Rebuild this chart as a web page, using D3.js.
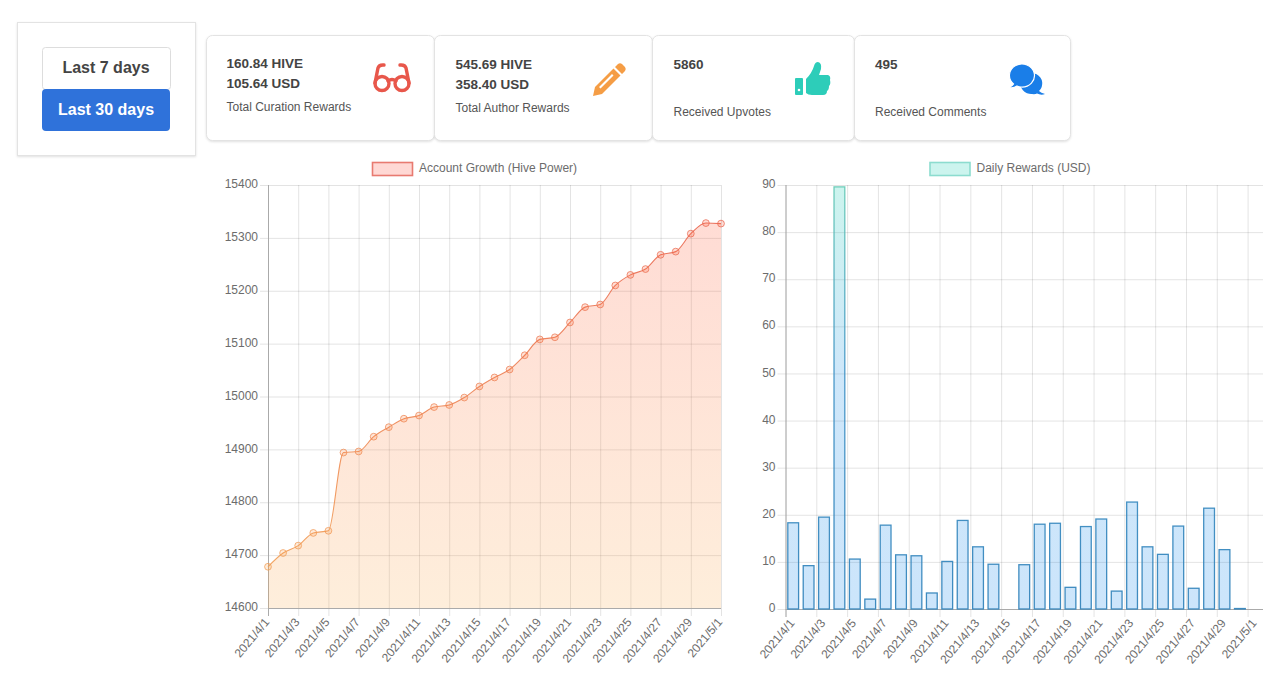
<!DOCTYPE html>
<html>
<head>
<meta charset="utf-8">
<script src="https://cdn.jsdelivr.net/npm/d3@7"></script>
<style>
  html, body { margin: 0; padding: 0; background: #fff; overflow: hidden; }
  svg { display: block; font-family: "Liberation Sans", Arial, sans-serif; }
  .box { fill: #fff; stroke: #e3e3e3; stroke-width: 1; filter: drop-shadow(0 1px 1px rgba(0,0,0,.12)); }
  .big { font-size: 13.5px; font-weight: bold; fill: #444; }
  .small { font-size: 12px; fill: #555; }
  .tick text, .legend-text { font-size: 12px; fill: #6c6c6c; }
  .grid line { stroke: rgba(0,0,0,.11); }
</style>
</head>
<body>
<svg id="page" width="1275" height="691"></svg>
<script>
// ------------------------------------------------------------------ //
// Data

var days = ['2021/4/1','2021/4/2','2021/4/3','2021/4/4','2021/4/5','2021/4/6','2021/4/7','2021/4/8',
  '2021/4/9','2021/4/10','2021/4/11','2021/4/12','2021/4/13','2021/4/14','2021/4/15','2021/4/16',
  '2021/4/17','2021/4/18','2021/4/19','2021/4/20','2021/4/21','2021/4/22','2021/4/23','2021/4/24',
  '2021/4/25','2021/4/26','2021/4/27','2021/4/28','2021/4/29','2021/4/30','2021/5/1'];

var hivePower = [14678,14704,14718,14742,14746,14894,14896,14924,14942,14958,14964,14980,14984,14998,
  15019,15036,15051,15078,15108,15112,15140,15169,15174,15210,15230,15241,15268,15274,15308,15328,15327];

var dailyRewards = [18.3,9.2,19.5,89.6,10.6,2.1,17.8,11.5,11.3,3.4,10.1,18.8,13.2,9.5,0,9.4,
  18,18.2,4.6,17.5,19.1,3.8,22.7,13.2,11.6,17.6,4.4,21.4,12.6,0.1,0];

var growthTicks = d3.range(14600, 15401, 100);
var rewardTicks = d3.range(0, 91, 10);
var dayTicks = days.filter((d, i) => i % 2 == 0);

var buttonLabels = ['Last 7 days', 'Last 30 days'];
var cardFirst = ['160.84 HIVE', '545.69 HIVE', '5860', '495'];
var cardSecond = ['105.64 USD', '358.40 USD', '', ''];
var cardLabels = ['Total Curation Rewards', 'Total Author Rewards', 'Received Upvotes', 'Received Comments'];

// ------------------------------------------------------------------ //
// Setup

var svg = d3.select('#page');
var defs = svg.append('defs');

function gradient(id, y0, y1, stops){
  var g = defs.append('linearGradient').attr('id', id).attr('gradientUnits', 'userSpaceOnUse')
    .attr('x1', 0).attr('x2', 0).attr('y1', y0).attr('y2', y1);
  stops.forEach(s => g.append('stop').attr('offset', s[0]).attr('stop-color', s[1]));
}

var left = { x0: 268, x1: 721, y0: 608, y1: 185 };
var right = { x0: 785.5, x1: 1263, y0: 609, y1: 185 };

gradient('growthFill', left.y1, left.y0, [[0, '#ff4628'], [1, '#faaa4b']]);
gradient('growthLine', left.y1, left.y0, [[0, '#e8604f'], [1, '#f2a557']]);
gradient('rewardFill', right.y1, right.y0, [[0, '#00c8aa'], [0.45, '#0a86e4'], [1, '#007deb']]);
gradient('rewardLine', right.y1, right.y0, [[0, '#62c9b4'], [0.45, '#3a8fc4'], [1, '#2c7fb8']]);

// ------------------------------------------------------------------ //
// Buttons and cards

svg.append('rect').attr('class', 'box').attr('x', 17.5).attr('y', 22.5).attr('width', 178).attr('height', 133);
svg.append('rect').attr('x', 42.5).attr('y', 47.5).attr('width', 128).attr('height', 42).attr('rx', 3)
  .attr('fill', '#fff').attr('stroke', '#ddd');
svg.append('rect').attr('x', 42).attr('y', 89).attr('width', 128).attr('height', 42).attr('rx', 4).attr('fill', '#2f72da');
svg.selectAll('.btn').data(buttonLabels).enter().append('text').attr('class', 'btn')
  .attr('x', 106).attr('y', (d, i) => 73 + i * 42).attr('text-anchor', 'middle')
  .attr('font-size', 16).attr('font-weight', 'bold').attr('fill', (d, i) => i ? '#fff' : '#444')
  .text(d => d);

var cardX = [206.5, 434.5, 652.5, 854.5, 1070.5];
var textX = [226.5, 455.5, 673.5, 875];
var firstY = [68, 69, 69, 69];
var labelY = [111, 112, 116, 116];

cardLabels.forEach((label, i) => {
  svg.append('rect').attr('class', 'box').attr('x', cardX[i]).attr('y', 35.5)
    .attr('width', cardX[i+1] - cardX[i]).attr('height', 105).attr('rx', 6);
  svg.append('text').attr('class', 'big').attr('x', textX[i]).attr('y', firstY[i]).text(cardFirst[i]);
  if(cardSecond[i]) svg.append('text').attr('class', 'big').attr('x', textX[i]).attr('y', firstY[i] + 20).text(cardSecond[i]);
  svg.append('text').attr('class', 'small').attr('x', textX[i]).attr('y', labelY[i]).text(label);
});

// glasses
var glasses = svg.append('g').attr('transform', 'translate(373,63)')
  .attr('fill', 'none').attr('stroke', '#e8574b').attr('stroke-width', 3.4).attr('stroke-linecap', 'round');
glasses.append('circle').attr('cx', 9).attr('cy', 20.5).attr('r', 7);
glasses.append('circle').attr('cx', 29).attr('cy', 20.5).attr('r', 7);
glasses.append('path').attr('d', 'M15 18 Q19 15 23 18 M2 20 L5 5 Q6 1.5 11 2 M36 20 L33 5 Q32 1.5 27 2');

// pencil
var pencil = svg.append('g').attr('transform', 'translate(593,63)');
pencil.append('path').attr('fill', '#f59d45').attr('fill-rule', 'evenodd')
  .attr('d', 'M25 1 Q27 -0.5 29 1 L32 4 Q33.5 6 32 8 L29 11 L22 4 Z M20.5 5.5 L27.5 12.5 L9 31 L0 33 L2 24 Z M19 11 L6 24 L7.5 25.5 L20.5 12.5 Z');

// thumb
var thumb = svg.append('g').attr('transform', 'translate(795,62)').attr('fill', '#2dcdb9');
thumb.append('rect').attr('x', 0).attr('y', 16).attr('width', 8).attr('height', 17).attr('rx', 1);
thumb.append('circle').attr('cx', 4).attr('cy', 28).attr('r', 1.3).attr('fill', '#fff');
thumb.append('path').attr('d', 'M11 17 Q17 11 19 4 Q20 0 23 0 Q27 1 26 7 L24 13 L33 13 Q36 14 35 18 Q36 22 34 24 Q34 28 32 29 Q32 33 28 33 L17 33 Q13 33 11 31 Z');

// comments
var comments = svg.append('g').attr('transform', 'translate(1008,64)');
comments.append('path').attr('fill', '#1a7ee8').attr('d', 'M24 30 A11 10.5 0 1 1 31 27 Q33 29 37 30 Q33 31.5 29 29.5 Q27 30.5 24 30 Z');
comments.append('path').attr('fill', '#1a7ee8').attr('stroke', '#fff').attr('stroke-width', 1.2)
  .attr('d', 'M13 23 A12.5 11.5 0 1 0 5.5 20 Q4.5 22 1 23.5 Q5.5 24.5 9 22 Q11 23 13 23 Z');

// ------------------------------------------------------------------ //
// Shared axis drawing

function drawAxes(box, tickScale, yScale, yTicks, labelShift){
  var grid = svg.append('g').attr('class', 'grid');
  grid.selectAll('.gy').data(yTicks).enter().append('line')
    .attr('x1', box.x0 - 8).attr('x2', box.x1).attr('y1', d => yScale(d) + 0.5).attr('y2', d => yScale(d) + 0.5);
  grid.selectAll('.gx').data(dayTicks).enter().append('line')
    .attr('x1', d => tickScale(d) + 0.5).attr('x2', d => tickScale(d) + 0.5).attr('y1', box.y1).attr('y2', box.y0 + 8);

  svg.append('line').attr('x1', box.x0 + 0.5).attr('x2', box.x0 + 0.5).attr('y1', box.y1).attr('y2', box.y0 + 8).attr('stroke', '#aaa');
  svg.append('line').attr('x1', box.x0).attr('x2', box.x1).attr('y1', box.y0 + 0.5).attr('y2', box.y0 + 0.5).attr('stroke', '#aaa');

  var ya = svg.append('g').attr('transform', 'translate(' + (box.x0 - 10) + ',0)')
    .call(d3.axisLeft(yScale).tickValues(yTicks).tickFormat(d3.format('d')).tickSize(0).tickPadding(0));
  ya.select('.domain').remove();
  ya.selectAll('text').attr('dy', '0.22em');

  var xa = svg.append('g').attr('transform', 'translate(0,' + (box.y0 + 8) + ')')
    .call(d3.axisBottom(tickScale).tickValues(dayTicks).tickSize(0).tickPadding(0));
  xa.select('.domain').remove();
  xa.selectAll('text').attr('text-anchor', 'end').attr('dy', 0).attr('y', 0)
    .attr('transform', 'translate(' + labelShift + ',6.5) rotate(-50)');
}

function drawLegend(x, fill, stroke, label){
  svg.append('rect').attr('x', x + 0.5).attr('y', 162.5).attr('width', 40).attr('height', 13)
    .attr('fill', fill).attr('stroke', stroke).attr('stroke-width', 1.6);
  svg.append('text').attr('class', 'legend-text').attr('x', x + 47).attr('y', 172).text(label);
}

// ------------------------------------------------------------------ //
// Account growth

var growthX = d3.scalePoint().domain(days).range([left.x0, left.x1]);
var growthY = d3.scaleLinear().domain([14600, 15400]).range([left.y0, left.y1]);

drawAxes(left, growthX, growthY, growthTicks, 1.5);
drawLegend(372, '#ffd8d4', '#e87a70', 'Account Growth (Hive Power)');

var area_gen = d3.area().x((d, i) => growthX(days[i])).y0(left.y0).y1(d => growthY(d)).curve(d3.curveMonotoneX);
var line_gen = d3.line().x((d, i) => growthX(days[i])).y(d => growthY(d)).curve(d3.curveMonotoneX);

svg.append('path').attr('d', area_gen(hivePower)).attr('fill', 'url(#growthFill)').attr('fill-opacity', 0.2);
svg.append('path').attr('d', line_gen(hivePower)).attr('fill', 'none').attr('stroke', 'url(#growthLine)')
  .attr('stroke-opacity', 0.9).attr('stroke-width', 1.1);
svg.selectAll('.pt').data(hivePower).enter().append('circle').attr('class', 'pt')
  .attr('cx', (d, i) => growthX(days[i])).attr('cy', d => growthY(d)).attr('r', 3.4)
  .attr('fill', 'url(#growthFill)').attr('fill-opacity', 0.2)
  .attr('stroke', 'url(#growthLine)').attr('stroke-opacity', 0.75);

// ------------------------------------------------------------------ //
// Daily rewards

var rewardBand = d3.scaleBand().domain(days).range([right.x0, right.x1]).paddingInner(0.3).paddingOuter(0.15);
var rewardTick = d3.scalePoint().domain(days).range([right.x0, right.x1 - (right.x1 - right.x0) / days.length]);
var rewardY = d3.scaleLinear().domain([0, 90]).range([right.y0, right.y1]);

drawAxes(right, rewardTick, rewardY, rewardTicks, rewardTick.step() / 2 + 1.5);
drawLegend(929.5, '#ccf4ee', '#8cdccf', 'Daily Rewards (USD)');

svg.selectAll('.bar').data(dailyRewards).enter().append('rect').attr('class', 'bar')
  .attr('x', (d, i) => rewardBand(days[i])).attr('width', rewardBand.bandwidth())
  .attr('y', d => rewardY(d)).attr('height', d => right.y0 - rewardY(d))
  .attr('fill', 'url(#rewardFill)').attr('fill-opacity', 0.2)
  .attr('stroke', 'url(#rewardLine)').attr('stroke-opacity', 0.9).attr('stroke-width', 1.3);
</script>
</body>
</html>
